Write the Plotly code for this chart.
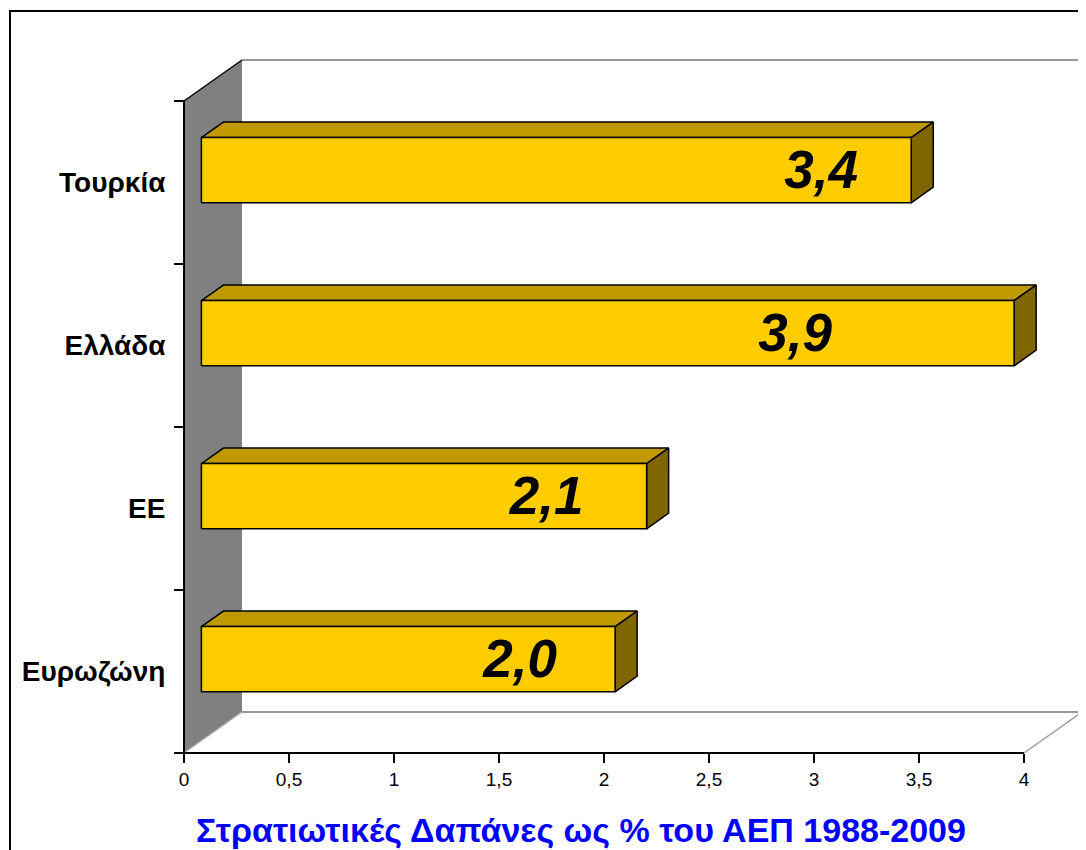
import plotly.graph_objects as go

# ---------------- data ----------------
categories = ["Ευρωζώνη", "ΕΕ", "Ελλάδα", "Τουρκία"]
values = [1.97, 2.12, 3.87, 3.38]
x_tick_values = [0, 0.5, 1, 1.5, 2, 2.5, 3, 3.5, 4]
title_text = "Στρατιωτικές Δαπάνες ως % του ΑΕΠ 1988-2009"

# ---------------- style ----------------
FONT = "Liberation Sans, Arial, sans-serif"
FRONT = "#FFCC00"
TOP = "#C09900"
SIDE = "#806600"
WALL = "#808080"
EDGE_GREY = "#999999"
label_shift_px = [95, 100, 219, 90]   # manual label placement inside bars

OFF = 8               # page body margin offset
PX_PER_X = 210.0      # pixels per value unit
PX_PER_C = 163.0      # pixels per category band
DX = 58 / PX_PER_X    # depth offset (value units)
DY = 41 / PX_PER_C    # depth offset (category units)
D1, D2 = 0.30, 0.68   # bar depth (front/back)
HALF = 0.2            # half bar height (category units)

W_FIG, H_FIG = 1086 - OFF, 850 - OFF
AXIS_X = 184 - OFF    # front vertical edge (figure px)
AXIS_Y = 753 - OFF    # front floor edge (figure px)
L, R, T, B = AXIS_X - 10, 0, 42, H_FIG - (AXIS_Y + 10)
W = W_FIG - L - R
H = H_FIG - T - B

x0 = -(AXIS_X - L) / PX_PER_X
x1 = x0 + W / PX_PER_X
c_lo = -0.5
c_hi = len(categories) - 0.5
y0 = c_lo - ((H_FIG - B) - AXIS_Y) / PX_PER_C
y1 = y0 + H / PX_PER_C
XMAX = x_tick_values[-1]


def P(v, c, d):
    return v + d * DX, c + d * DY


def poly(points, fill, line_color=None, width=1.5, close=True):
    pts = list(points) + ([points[0]] if close else [])
    xs = [p[0] for p in pts]
    ys = [p[1] for p in pts]
    kw = dict(x=xs, y=ys, mode="lines", hoverinfo="skip", showlegend=False)
    if fill:
        kw["fill"] = "toself"
        kw["fillcolor"] = fill
    if line_color:
        kw["line"] = dict(color=line_color, width=width)
    else:
        kw["line"] = dict(color="rgba(0,0,0,0)", width=0)
    return go.Scatter(**kw)


fig = go.Figure()

# back wall, floor, side wall
fig.add_trace(poly([P(0, c_lo, 1), P(XMAX, c_lo, 1), P(XMAX, c_hi, 1), P(0, c_hi, 1)], "white"))
fig.add_trace(poly([P(0, c_lo, 0), P(XMAX, c_lo, 0), P(XMAX, c_lo, 1), P(0, c_lo, 1)], "white"))
fig.add_trace(poly([P(0, c_lo, 0), P(0, c_hi, 0), P(0, c_hi, 1), P(0, c_lo, 1)], WALL))
# wall edges
fig.add_trace(poly([P(0, c_hi, 1), P(XMAX, c_hi, 1), P(XMAX, c_lo, 1), P(0, c_lo, 1)], None, EDGE_GREY, 2, close=False))
fig.add_trace(poly([P(XMAX, c_lo, 1), P(XMAX, c_lo, 0)], None, EDGE_GREY, 1.5, close=False))
fig.add_trace(poly([P(0, c_lo, 0), P(0, c_lo, 1)], None, "#b4b4b4", 1.5, close=False))
fig.add_trace(poly([P(0, c_hi, 0), P(0, c_hi, 1)], None, "black", 1.5, close=False))
fig.add_trace(poly([P(0, c_lo, 0), P(0, c_hi, 0)], None, "black", 2, close=False))
fig.add_trace(poly([P(0, c_lo, 0), P(XMAX, c_lo, 0)], None, "black", 2, close=False))

# bars
for i, (cat, v) in enumerate(zip(categories, values)):
    c = i
    top = [P(0, c + HALF, D1), P(v, c + HALF, D1), P(v, c + HALF, D2), P(0, c + HALF, D2)]
    side = [P(v, c - HALF, D1), P(v, c + HALF, D1), P(v, c + HALF, D2), P(v, c - HALF, D2)]
    front = [P(0, c - HALF, D1), P(v, c - HALF, D1), P(v, c + HALF, D1), P(0, c + HALF, D1)]
    fig.add_trace(poly(top, TOP, "black", 1.5))
    fig.add_trace(poly(side, SIDE, "black", 1.5))
    fig.add_trace(poly(front, FRONT, "black", 1.5))

# data labels
lab_x = []
lab_y = []
lab_t = []
for i, v in enumerate(values):
    fx, fy = P(v, i, D1)
    lab_x.append(fx - label_shift_px[i] / PX_PER_X)
    lab_y.append(fy - 5 / PX_PER_C)
    lab_t.append(f"{v:.1f}".replace(".", ","))
fig.add_trace(go.Scatter(
    x=lab_x, y=lab_y, text=lab_t, mode="text", textposition="middle center",
    textfont=dict(family=FONT, size=53, color="black", weight="bold", style="italic"),
    hoverinfo="skip", showlegend=False, cliponaxis=False))


# outer frame (paper coords)
def px2paper_x(px):
    return (px - L) / W


def px2paper_y(py):
    return ((H_FIG - B) - py) / H


fig.add_shape(type="rect", xref="paper", yref="paper",
              x0=px2paper_x(10 - OFF), x1=px2paper_x(1120),
              y0=px2paper_y(900), y1=px2paper_y(11 - OFF),
              line=dict(color="black", width=2), fillcolor="rgba(0,0,0,0)", layer="above")

fig.add_annotation(text=title_text, xref="paper", yref="paper",
                   x=px2paper_x(581 - OFF), y=px2paper_y(830 - OFF), xanchor="center", yanchor="middle",
                   showarrow=False,
                   font=dict(family=FONT, size=34, color="#0000FF", weight="bold"))

x_tick_text = [f"{t:g}".replace(".", ",") for t in x_tick_values]

fig.update_layout(
    width=W_FIG, height=H_FIG,
    margin=dict(l=L, r=R, t=T, b=B, autoexpand=False),
    paper_bgcolor="white", plot_bgcolor="white",
    showlegend=False,
    xaxis=dict(range=[x0, x1], anchor="free", position=((H_FIG - B) - AXIS_Y) / H,
               tickmode="array", tickvals=x_tick_values, ticktext=x_tick_text,
               ticks="outside", ticklen=9, tickwidth=2, tickcolor="black",
               showgrid=False, zeroline=False, showline=False, automargin=False,
               tickfont=dict(family=FONT, size=19, color="black")),
    yaxis=dict(range=[y0, y1], anchor="free", position=(AXIS_X - L) / W,
               tickmode="array", tickvals=list(range(len(categories))), ticktext=categories,
               ticks="outside", ticklen=13, tickcolor="rgba(0,0,0,0)",
               minor=dict(tickvals=[k - 0.5 for k in range(len(categories) + 1)],
                          ticks="outside", ticklen=10, tickwidth=2, tickcolor="black"),
               showgrid=False, zeroline=False, showline=False, automargin=False,
               tickfont=dict(family=FONT, size=28, color="black", weight="bold")),
)

fig.write_html("out.html")
